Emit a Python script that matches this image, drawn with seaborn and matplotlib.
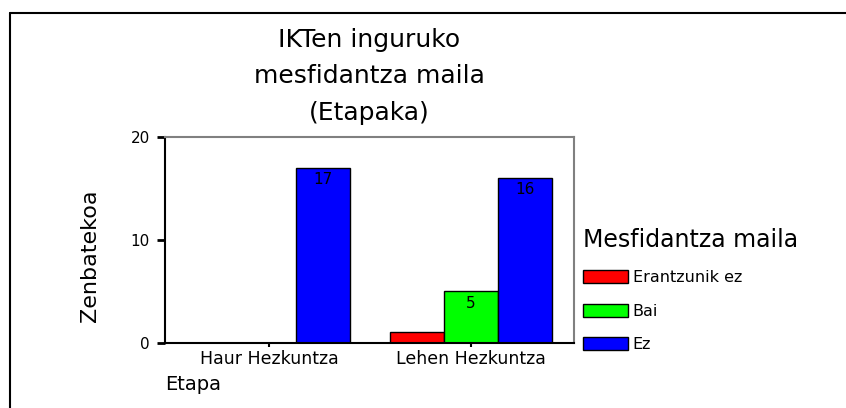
import pandas as pd
import matplotlib
matplotlib.use("Agg")
import matplotlib.pyplot as plt
import seaborn as sns
from matplotlib.lines import Line2D

# --- dati ---
etapak = ["Haur Hezkuntza", "Lehen Hezkuntza"]
mailak = ["Erantzunik ez", "Bai", "Ez"]
haur_hezkuntza = [0, 0, 17]
lehen_hezkuntza = [1, 5, 16]
koloreak = ["#FF0000", "#00FF00", "#0000FF"]

df = pd.DataFrame({
    "Etapa": [etapak[0]] * 3 + [etapak[1]] * 3,
    "Mesfidantza maila": mailak * 2,
    "Zenbatekoa": haur_hezkuntza + lehen_hezkuntza,
})

sns.set_theme(style="white")
plt.rcParams["font.family"] = ["DejaVu Sans"]
plt.rcParams["text.color"] = "black"
plt.rcParams["axes.labelcolor"] = "black"

fig = plt.figure(figsize=(8.46, 4.08), dpi=100)
ax = fig.add_axes([0.195, 0.16, 0.4835, 0.505])

sns.barplot(data=df, x="Etapa", y="Zenbatekoa", hue="Mesfidantza maila",
            order=etapak, hue_order=mailak, palette=koloreak,
            edgecolor="black", linewidth=1, saturation=1, width=0.8, ax=ax)

# etichette dentro le barre (solo quelle abbastanza alte)
for cont in ax.containers:
    etichette = [f"{v:.0f}" if v >= 2 else "" for v in cont.datavalues]
    ax.bar_label(cont, labels=etichette, padding=-14, fontsize=11, color="black")

ax.set_ylim(0, 20)
ax.set_xlim(-0.515, 1.51)
ax.set_yticks([0, 10, 20])
ax.tick_params(axis="y", direction="out", length=6, width=2, colors="black",
               labelsize=11, pad=5, left=True)
ax.tick_params(axis="x", direction="out", length=3, width=1.5, colors="black",
               labelsize=12.5, pad=2, bottom=True)

for lato in ["top", "right"]:
    ax.spines[lato].set_color("#808080")
    ax.spines[lato].set_linewidth(1.5)
for lato in ["left", "bottom"]:
    ax.spines[lato].set_color("black")
    ax.spines[lato].set_linewidth(1.5)

ax.set_title("IKTen inguruko\nmesfidantza maila\n(Etapaka)", fontsize=18,
             linespacing=1.66, pad=12, color="black")
ax.set_xlabel("Etapa", fontsize=14, loc="left", labelpad=5.5)
ax.set_ylabel("Zenbatekoa", fontsize=16)
ax.yaxis.set_label_coords(-0.16, 0.42)

# legenda a destra
handles, labels = ax.get_legend_handles_labels()
ax.legend(handles, labels, title="Mesfidantza maila", title_fontsize=17,
          fontsize=11.5, loc="upper left", bbox_to_anchor=(583 / 846, 1 - 228 / 408),
          bbox_transform=fig.transFigure, frameon=False, alignment="left",
          handlelength=2.8, handleheight=0.85, handletextpad=0.3,
          labelspacing=1.15, borderpad=0, borderaxespad=0)

# cornice esterna (solo sinistra e sopra, come nell'originale)
fig.add_artist(Line2D([9.5 / 846, 9.5 / 846], [0, 1 - 12.5 / 408],
                      transform=fig.transFigure, color="black", linewidth=1.5))
fig.add_artist(Line2D([9.5 / 846, 1], [1 - 12.5 / 408, 1 - 12.5 / 408],
                      transform=fig.transFigure, color="black", linewidth=1.5))

fig.savefig("out.png", dpi=100, facecolor="white")
